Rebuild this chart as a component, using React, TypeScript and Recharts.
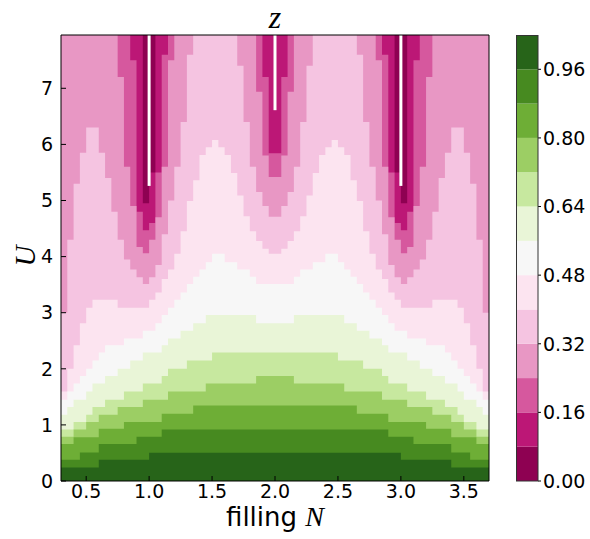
import React from 'react';
import { ComposedChart, Area, XAxis, YAxis, ReferenceLine, BarChart, Bar } from 'recharts';

const TOP = 7.95;
const X_MIN = 0.3;
const X_MAX = 3.7;

// colour levels of z (contour bins)
const levels = [0, 0.08, 0.16, 0.24, 0.32, 0.4, 0.48, 0.56, 0.64, 0.72, 0.8, 0.88, 0.96, 1.04];
const levelColors = ['#8e0152', '#bc1776', '#d6589e', '#e897c4', '#f5c4e1', '#fce4f0', '#f7f7f7', '#e9f5d7', '#c7e89f', '#9cce64', '#6eae36', '#478a20', '#276419'];

const xTicks = [0.5, 1.0, 1.5, 2.0, 2.5, 3.0, 3.5];
const yTicks = [0, 1, 2, 3, 4, 5, 6, 7];
const cbTicks = [0, 0.16, 0.32, 0.48, 0.64, 0.8, 0.96];

// For each level k: U below which z >= levels[k], as runs [filling where run starts, U]
const b0 = [[0.3, TOP]];
const b1 = [[0.3, TOP], [0.95, 4.95], [1.0, 5.5], [1.05, TOP], [2.95, 5.5], [3.0, 4.95], [3.05, TOP]];
const b2 = [[0.3, TOP], [0.85, 7.5], [0.9, 4.8], [0.95, 4.47], [1.0, 4.6], [1.05, 5.5], [1.1, 7.6], [1.15, TOP], [1.9, 7.2], [1.95, 5.84], [2.05, 7.2], [2.1, TOP], [2.85, 7.6], [2.9, 5.5], [2.95, 4.6], [3.0, 4.47], [3.05, 4.8], [3.1, 7.5], [3.15, TOP]];
const b3 = [[0.3, TOP], [0.75, 7.2], [0.8, 5.6], [0.85, 4.9], [0.9, 4.17], [0.95, 4.06], [1.0, 4.3], [1.05, 4.7], [1.1, 5.6], [1.15, 7.5], [1.2, TOP], [1.85, 6.94], [1.9, 5.8], [1.95, 5.42], [2.05, 5.8], [2.1, 6.94], [2.15, TOP], [2.8, 7.5], [2.85, 5.6], [2.9, 4.7], [2.95, 4.3], [3.0, 4.06], [3.05, 4.17], [3.1, 4.9], [3.15, 5.6], [3.2, 7.2], [3.25, TOP]];
const b4 = [[0.3, 3.0], [0.35, 4.3], [0.4, 5.3], [0.45, 5.85], [0.5, 6.3], [0.6, 5.85], [0.65, 5.4], [0.7, 4.8], [0.75, 4.3], [0.8, 3.95], [0.85, 3.77], [0.9, 3.63], [0.95, 3.51], [1.0, 3.63], [1.05, 3.85], [1.1, 4.4], [1.15, 5.0], [1.2, 5.6], [1.25, 6.4], [1.3, 7.6], [1.35, TOP], [1.7, 7.4], [1.75, 6.4], [1.8, 5.6], [1.85, 5.15], [1.9, 4.9], [1.95, 4.71], [2.05, 4.9], [2.1, 5.15], [2.15, 5.6], [2.2, 6.4], [2.25, 7.4], [2.3, TOP], [2.65, 7.6], [2.7, 6.4], [2.75, 5.6], [2.8, 5.0], [2.85, 4.4], [2.9, 3.85], [2.95, 3.63], [3.0, 3.51], [3.05, 3.63], [3.1, 3.77], [3.15, 3.95], [3.2, 4.3], [3.25, 4.8], [3.3, 5.4], [3.35, 5.85], [3.4, 6.3], [3.5, 5.85], [3.55, 5.3], [3.6, 4.3], [3.65, 3.0]];
const b5 = [[0.3, 1.595], [0.35, 2.0], [0.4, 2.42], [0.45, 2.81], [0.5, 3.09], [0.55, 3.23], [0.75, 3.09], [1.0, 3.23], [1.05, 3.36], [1.1, 3.6], [1.15, 3.77], [1.2, 4.05], [1.25, 4.45], [1.3, 4.99], [1.35, 5.36], [1.4, 5.81], [1.45, 5.95], [1.5, 6.08], [1.55, 5.95], [1.6, 5.81], [1.65, 5.49], [1.7, 5.09], [1.75, 4.72], [1.8, 4.45], [1.85, 4.28], [1.9, 4.14], [1.95, 4.05], [2.05, 4.14], [2.1, 4.28], [2.15, 4.45], [2.2, 4.72], [2.25, 5.09], [2.3, 5.49], [2.35, 5.81], [2.4, 5.95], [2.45, 6.08], [2.5, 5.95], [2.55, 5.81], [2.6, 5.36], [2.65, 4.99], [2.7, 4.45], [2.75, 4.05], [2.8, 3.77], [2.85, 3.6], [2.9, 3.36], [2.95, 3.23], [3.0, 3.09], [3.25, 3.23], [3.45, 3.09], [3.5, 2.81], [3.55, 2.42], [3.6, 2.0], [3.65, 1.595]];
const b6 = [[0.3, 1.45], [0.35, 1.595], [0.4, 1.74], [0.45, 1.87], [0.5, 2.0], [0.55, 2.15], [0.6, 2.29], [0.65, 2.42], [0.8, 2.54], [0.95, 2.68], [1.05, 2.81], [1.1, 2.96], [1.15, 3.09], [1.2, 3.23], [1.25, 3.36], [1.3, 3.51], [1.35, 3.64], [1.4, 3.77], [1.45, 3.9], [1.5, 4.05], [1.6, 3.9], [1.7, 3.77], [1.8, 3.64], [1.85, 3.51], [2.15, 3.64], [2.2, 3.77], [2.3, 3.9], [2.4, 4.05], [2.5, 3.9], [2.55, 3.77], [2.6, 3.64], [2.65, 3.51], [2.7, 3.36], [2.75, 3.23], [2.8, 3.09], [2.85, 2.96], [2.9, 2.81], [2.95, 2.68], [3.05, 2.54], [3.2, 2.42], [3.35, 2.29], [3.4, 2.15], [3.45, 2.0], [3.5, 1.87], [3.55, 1.74], [3.6, 1.595], [3.65, 1.45]];
const b7 = [[0.3, 1.18], [0.35, 1.32], [0.4, 1.45], [0.5, 1.595], [0.55, 1.74], [0.65, 1.87], [0.75, 2.0], [0.85, 2.15], [0.95, 2.29], [1.1, 2.42], [1.15, 2.54], [1.25, 2.68], [1.35, 2.81], [1.45, 2.96], [1.85, 2.81], [2.15, 2.96], [2.55, 2.81], [2.65, 2.68], [2.75, 2.54], [2.85, 2.42], [2.9, 2.29], [3.05, 2.15], [3.15, 2.0], [3.25, 1.87], [3.35, 1.74], [3.45, 1.595], [3.5, 1.45], [3.6, 1.32], [3.65, 1.18]];
const b8 = [[0.3, 0.92], [0.4, 1.05], [0.5, 1.18], [0.55, 1.32], [0.65, 1.45], [0.8, 1.595], [0.95, 1.74], [1.1, 1.87], [1.15, 2.0], [1.3, 2.15], [1.5, 2.29], [2.5, 2.15], [2.7, 2.0], [2.85, 1.87], [2.9, 1.74], [3.05, 1.595], [3.2, 1.45], [3.35, 1.32], [3.45, 1.18], [3.5, 1.05], [3.6, 0.92]];
const b9 = [[0.3, 0.79], [0.4, 0.92], [0.5, 1.05], [0.6, 1.18], [0.75, 1.32], [0.95, 1.45], [1.15, 1.595], [1.45, 1.74], [1.85, 1.87], [2.15, 1.74], [2.55, 1.595], [2.85, 1.45], [3.05, 1.32], [3.25, 1.18], [3.4, 1.05], [3.5, 0.92], [3.6, 0.79]];
const b10 = [[0.3, 0.66], [0.4, 0.78], [0.6, 0.93], [0.8, 1.05], [1.1, 1.2], [1.35, 1.345], [2.65, 1.2], [2.9, 1.05], [3.2, 0.93], [3.4, 0.78], [3.6, 0.66]];
const b11 = [[0.3, 0.38], [0.45, 0.51], [0.6, 0.66], [0.9, 0.79], [1.1, 0.92], [2.9, 0.79], [3.1, 0.66], [3.4, 0.51], [3.55, 0.38]];
const b12 = [[0.3, 0.24], [0.6, 0.38], [1.0, 0.505], [3.0, 0.38], [3.4, 0.24]];

const boundaries = [b0, b1, b2, b3, b4, b5, b6, b7, b8, b9, b10, b11, b12];

// vanishing-z lines at integer fillings
const whiteX = [1, 2, 3];
const whiteFrom = [5.26, 6.61, 5.26];

// table for the library (step lookup of the runs at each breakpoint)
const xs = Array.from(
  new Set([...boundaries.flatMap((r) => r.map((p) => p[0])), X_MAX].map((v) => +v.toFixed(3)))
).sort((a, b) => a - b);
const table = xs.map((x) => {
  const row: Record<string, number> = { x };
  boundaries.forEach((runs, k) => {
    let v = runs[0][1];
    for (const [s, u] of runs) if (s <= x + 1e-9) v = u;
    row['b' + k] = v;
  });
  return row;
});

const cbRow: Record<string, number | string> = { name: 'z' };
levelColors.forEach((_, k) => {
  cbRow['c' + k] = +(levels[k + 1] - levels[k]).toFixed(4);
});
const cbData = [cbRow];

const FONT = 'DejaVu Sans, sans-serif';
const MATH = 'Liberation Serif, DejaVu Serif, serif';
const tickStyle = { fill: '#000', fontSize: 19, fontFamily: FONT };

export default function App() {
  return (
    <div style={{ position: 'absolute', left: 0, top: 0, width: 590, height: 539, background: '#fff' }}>
      <div style={{ position: 'absolute', left: 0, top: 0 }}>
        <ComposedChart width={590} height={539} data={table} margin={{ top: 25, right: 91, bottom: 28, left: 11 }}>
          {boundaries.map((_, k) => (
            <Area
              key={k}
              dataKey={'b' + k}
              type="stepAfter"
              fill={levelColors[k]}
              fillOpacity={1}
              stroke="none"
              baseValue={0}
              dot={false}
              activeDot={false}
              isAnimationActive={false}
            />
          ))}
          {whiteX.map((x, i) => (
            <ReferenceLine
              key={'w' + i}
              segment={[{ x, y: whiteFrom[i] }, { x, y: TOP }]}
              stroke="#ffffff"
              strokeWidth={3}
            />
          ))}
          <XAxis
            type="number"
            dataKey="x"
            domain={[X_MIN, X_MAX]}
            ticks={xTicks}
            tickFormatter={(v) => v.toFixed(1)}
            height={30}
            tickSize={-5}
            tickMargin={9}
            tick={tickStyle}
            stroke="#000"
            axisLine={{ stroke: '#000' }}
            tickLine={{ stroke: '#000' }}
            interval={0}
          />
          <XAxis
            xAxisId="top"
            orientation="top"
            type="number"
            dataKey="x"
            domain={[X_MIN, X_MAX]}
            ticks={xTicks}
            height={10}
            tickSize={-5}
            tick={false}
            axisLine={{ stroke: '#000' }}
            tickLine={{ stroke: '#000' }}
            interval={0}
          />
          <YAxis
            type="number"
            domain={[0, TOP]}
            ticks={yTicks}
            width={50}
            tickSize={-5}
            tickMargin={13}
            tick={tickStyle}
            axisLine={{ stroke: '#000' }}
            tickLine={{ stroke: '#000' }}
            interval={0}
          />
          <YAxis
            yAxisId="right"
            orientation="right"
            type="number"
            domain={[0, TOP]}
            ticks={yTicks}
            width={10}
            tickSize={-5}
            tick={false}
            axisLine={{ stroke: '#000' }}
            tickLine={{ stroke: '#000' }}
            interval={0}
          />
        </ComposedChart>
      </div>
      <div style={{ position: 'absolute', left: 500, top: 0 }}>
        <BarChart width={90} height={539} data={cbData} margin={{ top: 35, right: 0, bottom: 58, left: 16 }} barCategoryGap={0} barGap={0}>
          <XAxis dataKey="name" hide />
          <YAxis
            orientation="right"
            type="number"
            domain={[0, 1.04]}
            ticks={cbTicks}
            tickFormatter={(v) => v.toFixed(2)}
            width={52}
            tickSize={3}
            tickMargin={2}
            tick={{ ...tickStyle, textAnchor: 'start' }}
            axisLine={false}
            tickLine={{ stroke: '#000' }}
            interval={0}
          />
          {levelColors.map((c, k) => (
            <Bar key={k} dataKey={'c' + k} stackId="s" fill={c} isAnimationActive={false} />
          ))}
        </BarChart>
      </div>
      <svg width={590} height={539} style={{ position: 'absolute', left: 0, top: 0, pointerEvents: 'none' }}>
        <rect x={516.5} y={35.5} width={21.5} height={445.5} fill="none" stroke="#333" strokeWidth={1} />
        <text x={275} y={28} textAnchor="middle" fontFamily={MATH} fontStyle="italic" fontSize={32} fill="#000">z</text>
        <text x={0} y={0} transform="translate(35,256) rotate(-90)" textAnchor="middle" fontFamily={MATH} fontStyle="italic" fontSize={29} fill="#000">U</text>
        <text x={275} y={526} textAnchor="middle" fontFamily={FONT} fontSize={26} fill="#000">
          filling <tspan fontFamily={MATH} fontStyle="italic" fontSize={28}>N</tspan>
        </text>
      </svg>
    </div>
  );
}
